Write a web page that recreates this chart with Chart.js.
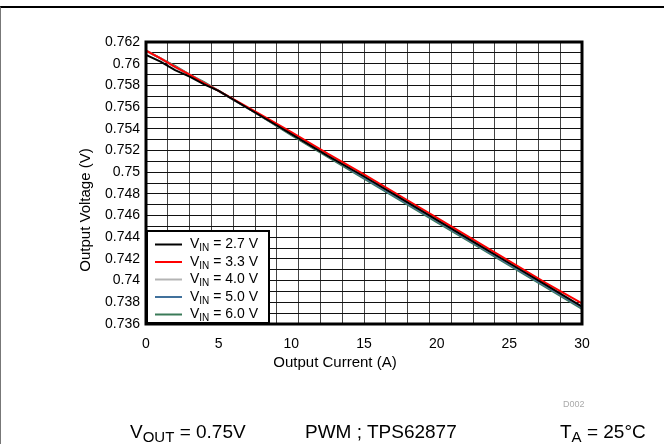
<!DOCTYPE html>
<html lang="en">
<head>
<meta charset="UTF-8">
<title>Output Voltage vs Output Current</title>
<script src="https://cdn.jsdelivr.net/npm/chart.js"></script>
<style>
  body { margin: 0; background: #fff; font-family: "Liberation Sans", Arial, sans-serif; }
  #wrap { position: relative; width: 664px; height: 444px; overflow: hidden; }
  #frame { position: absolute; left: 0; top: 6px; width: 664px; height: 438px; border-top: 2px solid #000; border-left: 1px solid #777; box-sizing: border-box; }
  #chartBox { position: absolute; left: 0; top: 0; width: 664px; height: 444px; }
  .axt { position: absolute; font-size: 15px; line-height: 16px; color: #000; white-space: nowrap; text-align: center; }
  #ytitle { left: -15px; top: 202px; width: 200px; transform: rotate(-90deg); }
  #xtitle { left: 235px; top: 354px; width: 200px; }
  .cap { position: absolute; font-size: 19px; color: #000; white-space: nowrap; line-height: 22px; top: 421px; }
  .cap sub { font-size: 15px; vertical-align: -4px; line-height: 0; }
  #code { position: absolute; left: 563px; top: 399px; font-size: 9px; color: #aaa; }
</style>
</head>
<body>
<div id="wrap">
  <div id="frame"></div>
  <div id="chartBox"><canvas id="chartCanvas" width="664" height="444"></canvas></div>
  <div class="axt" id="ytitle">Output Voltage (V)</div>
  <div class="axt" id="xtitle">Output Current (A)</div>
  <div id="code">D002</div>
  <div class="cap" style="left:130px;">V<sub>OUT</sub> = 0.75V</div>
  <div class="cap" style="left:305px;">PWM&nbsp;; TPS62877</div>
  <div class="cap" style="left:560px;">T<sub>A</sub> = 25°C</div>
</div>

<script>
// output current (A)
const current = [0, 1, 2, 3, 4, 5, 7.5, 10, 12.5, 15, 17.5, 20, 22.5, 25, 27.5, 30];

// output voltage (V) per input voltage
const vin27 = [0.7608, 0.7602, 0.7594, 0.7588, 0.7581, 0.7575, 0.7555, 0.7535, 0.7515, 0.7496, 0.7476, 0.7456, 0.7436, 0.7416, 0.7396, 0.7376];
const vin33 = [0.7612, 0.7605, 0.7597, 0.7590, 0.7582, 0.7575, 0.7556, 0.7537, 0.7517, 0.7498, 0.7478, 0.7458, 0.7438, 0.7418, 0.7398, 0.7379];
const vin40 = [0.7612, 0.7605, 0.7597, 0.7590, 0.7582, 0.7575, 0.7555, 0.7535, 0.7515, 0.7496, 0.7476, 0.7456, 0.7436, 0.7416, 0.7396, 0.7376];
const vin50 = [0.7612, 0.7605, 0.7597, 0.7590, 0.7582, 0.7575, 0.7555, 0.7535, 0.7515, 0.7495, 0.7475, 0.7455, 0.7435, 0.7415, 0.7395, 0.7375];
const vin60 = [0.7612, 0.7605, 0.7598, 0.7590, 0.7583, 0.7575, 0.7555, 0.7534, 0.7514, 0.7494, 0.7474, 0.7454, 0.7434, 0.7414, 0.7394, 0.7374];

const seriesNames = ['2.7', '3.3', '4.0', '5.0', '6.0'];
const seriesColors = ['#000000', '#ff0000', '#b4b4b4', '#41719c', '#3a7a58'];

const xLabelTicks = [0, 5, 10, 15, 20, 25, 30];
const yLabelTicks = [0.736, 0.738, 0.74, 0.742, 0.744, 0.746, 0.748, 0.75, 0.752, 0.754, 0.756, 0.758, 0.76, 0.762];

const FONT = '"Liberation Sans", Arial, sans-serif';

function pts(ys) {
    return current.map((x, i) => ({ x: x, y: ys[i] }));
}

// thick box round the plot, then the legend with subscripts
const frameAndLegend = {
    id: 'frameAndLegend',
    afterDatasetsDraw(chart) {
        const { ctx, chartArea } = chart;
        ctx.save();
        ctx.strokeStyle = '#000';
        ctx.lineWidth = 3;
        ctx.strokeRect(chartArea.left, chartArea.top, chartArea.right - chartArea.left, chartArea.bottom - chartArea.top);

        const w = 124, h = 94;
        const x0 = chartArea.left, y0 = chartArea.bottom - h;
        ctx.fillStyle = '#fff';
        ctx.fillRect(x0, y0, w, h);
        ctx.lineWidth = 2;
        ctx.strokeRect(x0 + 1, y0 + 1, w - 2, h - 2);

        chart.data.datasets.forEach((ds, i) => {
            const y = y0 + 14.5 + i * 17.5;
            ctx.strokeStyle = ds.borderColor;
            ctx.lineWidth = 2;
            ctx.beginPath();
            ctx.moveTo(x0 + 9, y);
            ctx.lineTo(x0 + 36, y);
            ctx.stroke();

            ctx.fillStyle = '#000';
            ctx.textBaseline = 'middle';
            ctx.textAlign = 'left';
            let tx = x0 + 44;
            ctx.font = '14px ' + FONT;
            ctx.fillText('V', tx, y);
            tx += ctx.measureText('V').width;
            ctx.font = '10px ' + FONT;
            ctx.fillText('IN', tx, y + 4);
            tx += ctx.measureText('IN').width;
            ctx.font = '14px ' + FONT;
            ctx.fillText(' = ' + seriesNames[i] + ' V', tx, y);
        });
        ctx.restore();
    }
};

const ctx = document.getElementById('chartCanvas').getContext('2d');
new Chart(ctx, {
    type: 'line',
    data: {
        datasets: [
            { label: 'VIN = 2.7 V', data: pts(vin27), borderColor: seriesColors[0] },
            { label: 'VIN = 3.3 V', data: pts(vin33), borderColor: seriesColors[1] },
            { label: 'VIN = 4.0 V', data: pts(vin40), borderColor: seriesColors[2] },
            { label: 'VIN = 5.0 V', data: pts(vin50), borderColor: seriesColors[3] },
            { label: 'VIN = 6.0 V', data: pts(vin60), borderColor: seriesColors[4] }
        ]
    },
    options: {
        responsive: false,
        animation: false,
        devicePixelRatio: 1,
        datasets: { line: { borderWidth: 2, pointRadius: 0, fill: false, tension: 0 } },
        layout: { padding: { left: 60, top: 42, right: 82, bottom: 80 } },
        plugins: { legend: { display: false }, tooltip: { enabled: false } },
        scales: {
            x: {
                type: 'linear',
                min: 0,
                max: 30,
                afterBuildTicks: s => {
                    const vals = new Set(xLabelTicks);
                    for (let k = 0; k <= 20; k++) vals.add(+(k * 1.5).toFixed(2));
                    s.ticks = [...vals].sort((a, b) => a - b).map(v => ({ value: v }));
                },
                afterFit: s => { s.height = 40; },
                ticks: {
                    autoSkip: false,
                    maxRotation: 0,
                    padding: 12,
                    color: '#000',
                    font: { family: FONT, size: 14 },
                    callback: v => xLabelTicks.includes(v) ? String(v) : ''
                },
                grid: {
                    drawTicks: false,
                    color: c => (c.tick && Math.abs(c.tick.value / 1.5 - Math.round(c.tick.value / 1.5)) < 1e-6) ? '#444' : 'rgba(0,0,0,0)'
                },
                border: { display: false }
            },
            y: {
                min: 0.736,
                max: 0.762,
                afterBuildTicks: s => {
                    const t = [];
                    for (let k = 0; k <= 26; k++) t.push({ value: +(0.736 + k * 0.001).toFixed(3) });
                    s.ticks = t;
                },
                afterFit: s => { s.width = 86; },
                ticks: {
                    autoSkip: false,
                    padding: 6,
                    color: '#000',
                    font: { family: FONT, size: 14 },
                    callback: v => yLabelTicks.some(t => Math.abs(t - v) < 1e-6) ? String(+v.toFixed(3)) : ''
                },
                grid: { drawTicks: false, color: '#111' },
                border: { display: false }
            }
        }
    },
    plugins: [frameAndLegend]
});
</script>
</body>
</html>
